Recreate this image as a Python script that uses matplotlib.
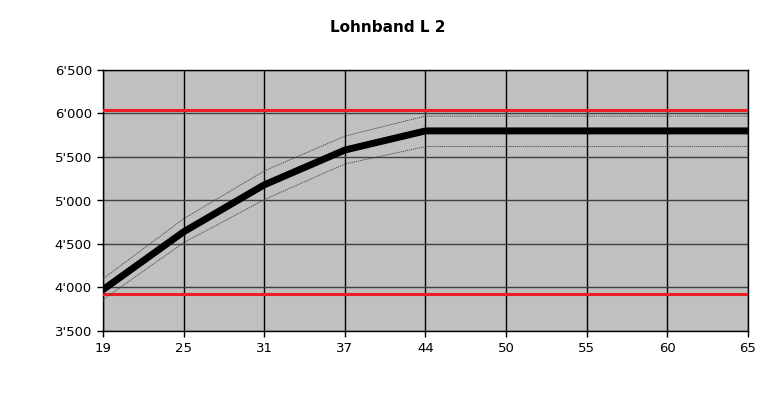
import matplotlib
matplotlib.use("Agg")
import matplotlib.pyplot as plt
import numpy as np

plt.rcParams['font.family'] = ['DejaVu Sans']

ages = ["19", "25", "31", "37", "44", "50", "55", "60", "65"]
mid = [3975, 4640, 5180, 5580, 5800, 5800, 5800, 5800, 5800]
upper = [4100, 4790, 5340, 5740, 5970, 5970, 5970, 5970, 5970]
lower = [3860, 4515, 5010, 5420, 5620, 5620, 5620, 5620, 5620]
red_max = 6040
red_min = 3925
yticks = [3500, 4000, 4500, 5000, 5500, 6000, 6500]
ytick_labels = ["3'500", "4'000", "4'500", "5'000", "5'500", "6'000", "6'500"]
title = "Lohnband L 2"

fig = plt.figure(figsize=(7.8, 4.15), dpi=100)
ax = fig.add_axes([103/780, 1 - 331/415, (748-103)/780, (331-70)/415])
ax.set_facecolor('#c0c0c0')

x = np.arange(len(ages))
ax.set_xlim(0, len(ages) - 1)
ax.set_ylim(3500, 6500)

for xi in x:
    ax.axvline(xi, color='black', lw=1.0, zorder=1)
for yv in yticks:
    ax.axhline(yv, color='#404040', lw=1.0, zorder=1)

ax.axhline(red_max, color='#ee1c24', lw=2.2, zorder=3)
ax.axhline(red_min, color='#ee1c24', lw=2.2, zorder=3)

ax.plot(x, upper, color='#404040', lw=0.6, ls=(0, (1.5, 1)), zorder=4)
ax.plot(x, lower, color='#404040', lw=0.6, ls=(0, (1.5, 1)), zorder=4)
ax.plot(x, mid, color='black', lw=5, solid_joinstyle='miter', zorder=5)

ax.set_xticks(x)
ax.set_xticklabels(ages)
ax.set_yticks(yticks)
ax.set_yticklabels(ytick_labels)
ax.tick_params(axis='both', length=4, width=1, color='black', labelsize=9.5, pad=4)
for s in ax.spines.values():
    s.set_color('black')
    s.set_linewidth(1)

fig.text(388/780, 1 - 27/415, title, ha='center', va='center', fontsize=11, fontweight='bold')

fig.savefig('out.png', dpi=100)
